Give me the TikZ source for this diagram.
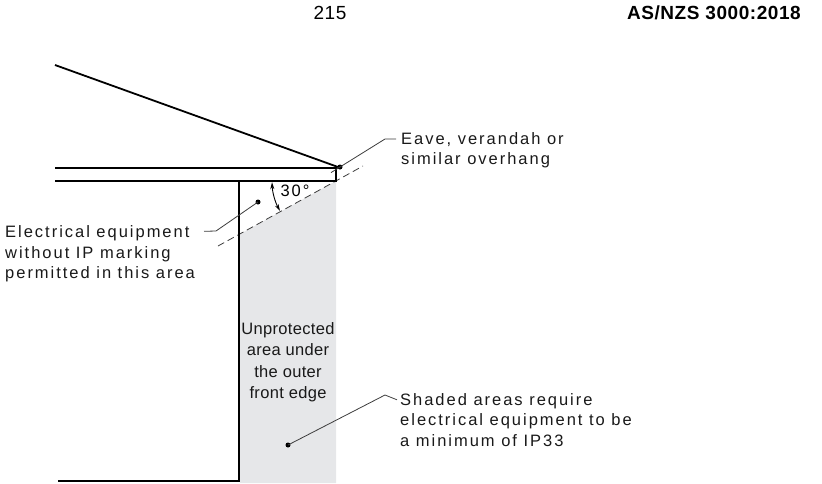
\documentclass[tikz,border=0pt]{standalone}
\usepackage{fontspec}
\setmainfont{Liberation Sans}
\newfontfamily\labfont[LetterSpace=12]{Liberation Sans}
\newfontfamily\boxfont[LetterSpace=2]{Liberation Sans}
\newfontfamily\headfont[LetterSpace=3]{Liberation Sans}
\usetikzlibrary{arrows.meta}
\definecolor{shadegray}{RGB}{230,231,233}
\definecolor{leadgray}{RGB}{60,60,60}
\begin{document}
\begin{tikzpicture}[x=1pt,y=-1pt,
  mainline/.style={line width=1.8pt, black},
  leader/.style={line width=0.8pt, leadgray},
  dashline/.style={line width=0.8pt, leadgray, dash pattern=on 7pt off 4pt},
  lab/.style={font=\labfont\fontsize{16.5}{20.3}\selectfont, inner sep=0pt, align=left, text=black!90},
  boxlab/.style={font=\boxfont\fontsize{16.5}{21.5}\selectfont, inner sep=0pt, align=center, text=black!90},
  head/.style={font=\headfont\fontsize{19}{22}\selectfont, inner sep=0pt},
  dot/.style={circle, fill=black, inner sep=0pt, minimum size=5pt}]
\useasboundingbox (0,0) rectangle (822,483);
% shaded area
\fill[shadegray] (240,234) -- (336,181) -- (336,483) -- (240,483) -- cycle;
% 30 degree dashed line
\coordinate (dA) at (218,246);
\coordinate (dB) at (363,166);
\draw[dashline] (dA) -- (dB);
% roof
\coordinate (roofL) at (55,65);
\coordinate (roofR) at (338,167);
\draw[mainline] (roofL) -- (roofR);
% eave
\coordinate (eTL) at (55,168);
\coordinate (eTR) at (336,168);
\coordinate (eBR) at (336,181);
\coordinate (eBL) at (55,181);
\draw[mainline] (eTL) -- (eTR) -- (eBR) -- (eBL);
% wall
\coordinate (wTop) at (239,181);
\coordinate (wBot) at (239,481);
\coordinate (fL) at (58,481);
\draw[mainline] (wTop) -- (wBot) -- (fL);
% angle arc
\coordinate (arcS) at (272.04,182.2);
\draw[line width=0.9pt, {Stealth[length=7pt,width=4pt]}-{Stealth[length=7pt,width=4pt]}]
  (arcS) arc[start angle=178, end angle=151, radius=64];
\node[lab, text=black] (ang) at (295,191) {30°};
% header
\node[head] (page) at (330,13) {215};
\node[head, font=\headfont\bfseries\fontsize{19}{22}\selectfont, anchor=east] (std) at (801,13) {AS/NZS 3000:2018};
% labels
\node[lab, anchor=north west] (eave) at (401,132.5) {Eave, verandah or\\similar overhang};
\node[lab, anchor=north west] (equip) at (5,225.8) {Electrical equipment\\without IP marking\\permitted in this area};
\node[lab, anchor=north west] (ip) at (400,393.3) {Shaded areas require\\electrical equipment to be\\a minimum of IP33};
\node[boxlab, anchor=north] (unprot) at (288,322) {Unprotected\\area under\\the outer\\front edge};
% leaders
\node[dot] (d1) at (340,167) {};
\coordinate (k1) at (385,139);
\coordinate (t1) at (331,172.6);
\draw[leader] ([shift={(-5,6.5)}]eave.north west) -- (k1) -- (t1);
\node[dot] (d2) at (258,202) {};
\coordinate (k2) at (216,231);
\draw[leader] ([shift={(-12,5.5)}]equip.north east -| k2) -- (k2) -- (d2.center);
\node[dot] (d3) at (288,445) {};
\coordinate (k3) at (385,395);
\draw[leader] ([shift={(-3,6.5)}]ip.north west) -- (k3) -- (d3.center);
\end{tikzpicture}
\end{document}
